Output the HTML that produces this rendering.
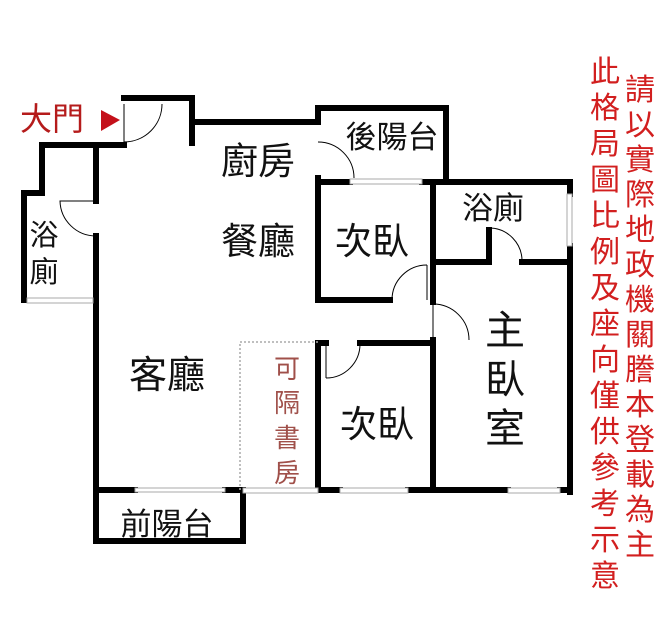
<!DOCTYPE html>
<html><head><meta charset="utf-8"><style>
html,body{margin:0;padding:0;background:#fff;}
svg{display:block;}
text{font-family:"Liberation Sans","Noto Sans CJK TC",sans-serif;}
</style></head><body>
<svg width="671" height="628" viewBox="0 0 671 628" xmlns="http://www.w3.org/2000/svg">
<g stroke="#000" stroke-width="6" fill="none" stroke-linecap="square">
<polyline points="124,98 192,98 192,143"/>
<polyline points="192,122 318,122"/>
<polyline points="124,145 42,145 42,193 24,193 24,300"/>
<line x1="96" y1="145" x2="96" y2="201"/>
<line x1="96" y1="236" x2="96" y2="490"/>
<polyline points="318,122 318,108 446,108 446,182"/>
<line x1="318" y1="178" x2="318" y2="300"/>
<line x1="318" y1="182" x2="350" y2="182"/>
<line x1="422" y1="182" x2="570" y2="182"/>
<line x1="318" y1="300" x2="390" y2="300"/>
<line x1="433" y1="182" x2="433" y2="302"/>
<line x1="433" y1="340" x2="433" y2="490"/>
<line x1="570" y1="182" x2="570" y2="194"/>
<line x1="570" y1="246" x2="570" y2="492"/>
<line x1="433" y1="262" x2="489" y2="262"/>
<line x1="522" y1="262" x2="570" y2="262"/>
<line x1="489" y1="230" x2="489" y2="262"/>
<line x1="318" y1="344" x2="318" y2="490"/>
<line x1="318" y1="343" x2="326" y2="343"/>
<line x1="360" y1="343" x2="433" y2="343"/>
<line x1="318" y1="490" x2="340" y2="490"/>
<line x1="408" y1="490" x2="508" y2="490"/>
<line x1="560" y1="490" x2="570" y2="490"/>
<line x1="96" y1="490" x2="135" y2="490"/>
<line x1="225" y1="490" x2="243" y2="490"/>
<polyline points="96,490 96,541 243,541 243,490"/>
</g>
<g stroke="#aaa" stroke-width="1" fill="#fff">
<rect x="27" y="298" width="66" height="5"/>
<rect x="350" y="179" width="72" height="5"/>
<rect x="567" y="194" width="5" height="52"/>
<rect x="243" y="488" width="75" height="5"/>
<rect x="340" y="488" width="68" height="5"/>
<rect x="508" y="488" width="52" height="5"/>
<rect x="135" y="488" width="90" height="4"/>
</g>
<g stroke="#000" stroke-width="1" fill="none">
<line x1="124" y1="104" x2="124" y2="142"/>
<path d="M162,104 A38,38 0 0 1 124,142"/>
<path d="M96,201 H60 A36,36 0 0 0 96,236"/>
<path d="M318,142 A36,36 0 0 1 354,178"/>
<line x1="427" y1="265" x2="427" y2="300"/>
<path d="M392,300 A35,35 0 0 1 427,265"/>
<line x1="433" y1="304" x2="433" y2="340"/>
<path d="M433,304 A36,36 0 0 1 469,340"/>
<path d="M489,228 A33,33 0 0 1 522,262"/>
<line x1="326" y1="343" x2="326" y2="378"/>
<path d="M326,378 A34,34 0 0 0 360,344"/>
</g>
<polyline points="240,490 240,342 318,342" stroke="#aaa" stroke-width="1.5" stroke-dasharray="2,2" fill="none"/>
<text x="20" y="130" font-size="32" fill="#b51b1b" font-family="Liberation Serif,'Noto Serif CJK TC',serif">大門</text>
<polygon points="101,110 101,131 120,120" fill="#c4101a"/>
<g fill="#111" text-anchor="middle">
<text x="258" y="174" font-size="37">廚房</text>
<text x="258" y="254" font-size="37">餐廳</text>
<text x="372" y="254" font-size="37">次臥</text>
<text x="392" y="148" font-size="31">後陽台</text>
<text x="493" y="219" font-size="31">浴廁</text>
<text x="44" y="245" font-size="29">浴</text>
<text x="44" y="282" font-size="29">廁</text>
<text x="167" y="388" font-size="38">客廳</text>
<text x="377" y="437" font-size="37">次臥</text>
<text x="505" y="344" font-size="40">主</text>
<text x="505" y="393" font-size="40">臥</text>
<text x="505" y="442" font-size="40">室</text>
<text x="167" y="535" font-size="31">前陽台</text>
</g>
<g fill="#a0504a" text-anchor="middle" font-size="26">
<text x="287" y="378">可</text>
<text x="287" y="412">隔</text>
<text x="287" y="447">書</text>
<text x="287" y="482">房</text>
</g>
<g fill="#d21f1f" text-anchor="middle" font-size="30">
<text x="605" y="82">此</text><text x="605" y="118">格</text><text x="605" y="154">局</text><text x="605" y="190">圖</text><text x="605" y="226">比</text><text x="605" y="262">例</text><text x="605" y="298">及</text><text x="605" y="334">座</text><text x="605" y="370">向</text><text x="605" y="406">僅</text><text x="605" y="442">供</text><text x="605" y="478">參</text><text x="605" y="514">考</text><text x="605" y="550">示</text><text x="605" y="586">意</text>
<text x="640" y="100">請</text><text x="640" y="135">以</text><text x="640" y="170">實</text><text x="640" y="205">際</text><text x="640" y="240">地</text><text x="640" y="275">政</text><text x="640" y="310">機</text><text x="640" y="345">關</text><text x="640" y="380">謄</text><text x="640" y="415">本</text><text x="640" y="450">登</text><text x="640" y="485">載</text><text x="640" y="520">為</text><text x="640" y="555">主</text>
</g>
</svg>
</body></html>
